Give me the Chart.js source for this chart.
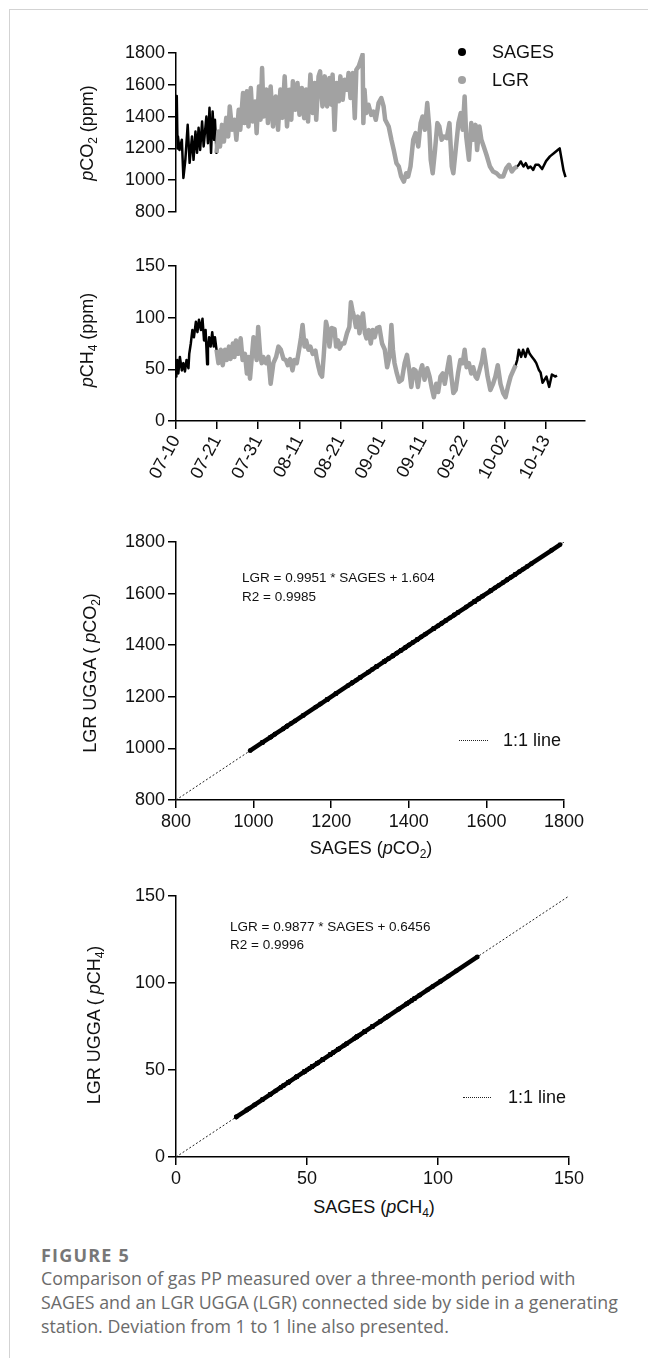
<!DOCTYPE html>
<html>
<head>
<meta charset="utf-8">
<script src="https://cdn.jsdelivr.net/npm/chart.js"></script>
<style>
  body { margin: 0; background: #fff; }
  #page { position: relative; width: 648px; height: 1358px; overflow: hidden; font-family: "Liberation Sans", Arial, sans-serif; color: #111; }
  #frame { position: absolute; left: 9px; top: 9px; width: 650px; height: 1360px; border-left: 1px solid #d3d3d3; border-top: 1px solid #d3d3d3; }
  canvas { position: absolute; left: 0; }
  .t { position: absolute; white-space: nowrap; font-size: 18px; line-height: 1; transform: translate(0, -50%); }
  .c { transform: translate(-50%, -50%); }
  .v { transform: translate(-50%, -50%) rotate(-90deg); }
  .eq { font-size: 13.5px; }
  sub { font-size: 12px; vertical-align: -4px; line-height: 0; }
  .dot { position: absolute; width: 8px; height: 8px; border-radius: 50%; }
  .dash { position: absolute; height: 0; border-top: 1.5px dotted #222; }
  .cap { position: absolute; left: 41px; font-family: "Open Sans", sans-serif; color: #6b6b6b; font-size: 17.8px; white-space: nowrap; transform: translate(0, -50%); line-height: 1; }
</style>
</head>
<body>
<div id="page">
  <div id="frame"></div>
  <canvas id="co2Time" width="648" height="230" style="top:0"></canvas>
  <canvas id="ch4Time" width="648" height="280" style="top:230px"></canvas>
  <canvas id="co2Fit" width="648" height="345" style="top:520px"></canvas>
  <canvas id="ch4Fit" width="648" height="330" style="top:865px"></canvas>

  <div class="dot" style="left:458px; top:48px; background:#000"></div>
  <div class="t" style="left:492px; top:52px">SAGES</div>
  <div class="dot" style="left:458px; top:76px; background:#a2a2a2"></div>
  <div class="t" style="left:492px; top:80px">LGR</div>

  <div class="t v" style="left:87px; top:133px"><i>p</i>CO<sub>2</sub> (ppm)</div>
  <div class="t v" style="left:87px; top:340px"><i>p</i>CH<sub>4</sub> (ppm)</div>

  <div class="t v" style="left:90px; top:673px">LGR UGGA ( <i>p</i>CO<sub>2</sub>)</div>
  <div class="t c" style="left:371px; top:848px">SAGES (<i>p</i>CO<sub>2</sub>)</div>
  <div class="t eq" style="left:242px; top:578px">LGR = 0.9951 * SAGES + 1.604</div>
  <div class="t eq" style="left:242px; top:597px">R2 = 0.9985</div>
  <div class="dash" style="left:459px; top:740px; width:29px"></div>
  <div class="t" style="left:503px; top:740px">1:1 line</div>

  <div class="t v" style="left:94px; top:1025px">LGR UGGA ( <i>p</i>CH<sub>4</sub>)</div>
  <div class="t c" style="left:374px; top:1207px">SAGES (<i>p</i>CH<sub>4</sub>)</div>
  <div class="t eq" style="left:230px; top:927px">LGR = 0.9877 * SAGES + 0.6456</div>
  <div class="t eq" style="left:230px; top:945px">R2 = 0.9996</div>
  <div class="dash" style="left:463px; top:1097px; width:28px"></div>
  <div class="t" style="left:508px; top:1097px">1:1 line</div>

  <div class="cap" style="top:1255px; font-weight:700; font-size:18px; letter-spacing:1.2px; color:#777">FIGURE 5</div>
  <div class="cap" style="top:1279px">Comparison of gas PP measured over a three-month period with</div>
  <div class="cap" style="top:1303px">SAGES and an LGR UGGA (LGR) connected side by side in a generating</div>
  <div class="cap" style="top:1327px">station. Deviation from 1 to 1 line also presented.</div>
</div>
<script>
// days since 07-10
const co2Days = [0, 0.2, 0.4, 0.5, 0.9, 1.5, 1.9, 2.4, 3.0, 3.5, 4.1, 4.5, 5.0, 5.4, 5.8, 6.2, 6.7, 7.1, 7.8, 8.2, 8.6, 9.0, 9.4, 9.8, 10.0,
  10.4, 10.9, 11.3, 11.8, 12.3, 12.9, 13.4, 13.8, 14.4, 15.0, 15.5, 16.1, 16.5, 17.2, 17.6, 18.2, 18.6, 19.2, 19.7, 20.3, 20.7,
  21.3, 21.7, 22.1, 22.5, 23.2, 23.6, 24.3, 24.9, 25.6, 26.2, 26.8, 27.3, 27.9, 28.5, 29.1, 29.6, 30.0, 30.6, 31.2, 31.7, 32.3,
  32.9, 33.4, 33.9, 34.5, 35.1, 35.6, 36.0, 36.6, 37.0, 37.6, 38.2, 38.8, 39.4, 39.9, 40.2, 40.7, 41.2, 41.8, 42.2, 42.8, 43.3,
  43.9, 44.3, 44.8, 45.4, 45.9, 46.3, 46.9, 47.6, 47.9, 48.1, 48.4, 48.8, 49.4, 50.1, 50.7, 51.3, 52.0, 52.7, 53.3, 53.7, 54.6,
  55.3, 55.9, 56.6, 57.2, 57.8, 58.5, 59.1, 59.6, 60.2, 60.9, 61.5, 62.2, 62.8, 63.3, 63.9, 64.5, 65.0, 65.4, 65.9, 66.5, 67.1,
  67.6, 68.2, 68.8, 69.5, 70.2, 70.8, 71.2, 71.8, 72.5, 73.1, 73.6, 74.1, 74.5, 75.2, 75.8, 76.3, 76.9, 77.3, 77.9, 78.4, 79.0,
  79.7, 80.6, 81.4, 82.3, 83.1, 84.0, 84.8, 85.5, 86.2, 86.9, 87.6, 88.0, 88.5, 89.2, 89.8, 90.4, 91.0, 91.7, 92.3, 93.1, 94.0,
  95.0, 96.0, 97.0, 98.0, 98.5, 99.0, 99.5, 100.0];
const co2Sages = [1520, 1530, 1200, 1275, 1190, 1254, 1014, 1128, 1348, 1109, 1275, 1128, 1306, 1172, 1330, 1190, 1369, 1212, 1400, 1233, 1455, 1172, 1432, 1254, 1380,
  1172, 1306, 1212, 1348, 1243, 1392, 1275, 1464, 1317, 1380, 1254, 1443, 1317, 1548, 1359, 1559, 1338, 1580, 1369, 1495, 1296,
  1590, 1380, 1705, 1400, 1570, 1359, 1590, 1338, 1527, 1317, 1570, 1392, 1653, 1338, 1569, 1380, 1622, 1443, 1611, 1411, 1580,
  1390, 1570, 1369, 1664, 1422, 1611, 1380, 1653, 1685, 1464, 1653, 1464, 1643, 1475, 1664, 1317, 1611, 1496, 1653, 1506, 1632,
  1569, 1674, 1517, 1674, 1390, 1695, 1716, 1768, 1790, 1359, 1569, 1422, 1475, 1411, 1432, 1380, 1485, 1517, 1464, 1380, 1338,
  1254, 1190, 1107, 1086, 1023, 991, 1044, 1023, 1086, 1254, 1296, 1212, 1359, 1401, 1317, 1485, 1338, 1128, 1044, 1190, 1359,
  1338, 1254, 1275, 1265, 1359, 1086, 1044, 1190, 1359, 1422, 1317, 1527, 1275, 1128, 1359, 1254, 1348, 1190, 1338, 1254, 1212,
  1160, 1086, 1055, 1044, 1023, 1023, 1076, 1097, 1055, 1076, 1086, 1097, 1118, 1086, 1107, 1076, 1086, 1065, 1097, 1097, 1070,
  1120, 1150, 1170, 1190, 1200, 1130, 1060, 1020];

const ch4Days = [0, 0.1, 0.3, 0.6, 1.0, 1.5, 1.9, 2.3, 2.7, 3.2, 3.4, 3.8, 4.2, 4.6, 5.1, 5.5, 5.9, 6.4, 6.8, 7.2, 7.6, 8.0, 8.2, 8.5, 8.9, 9.3, 9.7, 10.0,
  10.4, 10.9, 11.5, 12.0, 12.6, 13.0, 13.6, 14.0, 14.6, 15.0, 15.4, 16.0, 16.6, 17.1, 17.7, 18.2, 18.6, 19.0, 19.4, 19.9, 20.3,
  20.7, 21.1, 21.6, 22.0, 22.4, 23.1, 23.7, 24.3, 25.0, 25.7, 26.3, 26.9, 27.6, 28.2, 28.7, 29.3, 29.9, 30.4, 31.0, 31.6, 32.1,
  32.5, 33.0, 33.4, 34.0, 34.5, 35.1, 35.8, 36.2, 36.6, 37.0, 37.5, 37.9, 38.5, 39.0, 39.4, 40.0, 40.7, 41.1, 41.6, 42.0, 42.6,
  43.2, 43.9, 44.5, 44.9, 45.3, 45.7, 46.2, 46.7, 47.1, 47.6, 48.0, 48.5, 48.9, 49.5, 50.0, 50.5, 51.0, 51.6, 52.2, 52.9, 53.6,
  54.2, 54.8, 55.3, 55.7, 56.1, 56.7, 57.3, 58.0, 58.7, 59.3, 59.9, 60.4, 61.0, 61.5, 62.1, 62.6, 63.2, 63.8, 64.5, 65.1, 65.6,
  66.2, 66.8, 67.3, 67.9, 68.5, 69.0, 69.6, 70.2, 70.7, 71.2, 71.8, 72.4, 73.0, 73.6, 74.1, 74.6, 75.2, 75.8, 76.3, 76.9, 77.3,
  77.9, 78.6, 79.0, 79.5, 80.0, 80.7, 81.4, 82.0, 82.6, 83.3, 84.0, 84.6, 85.2, 85.9, 86.6, 87.2, 87.6, 88.0, 88.6, 89.1, 89.7,
  90.3, 90.8, 91.4, 92.0, 92.5, 93.2, 93.6, 94.1, 95.1, 95.8, 96.5, 97.4, 97.8];
const ch4Sages = [43, 52, 59, 46, 62, 49, 56, 48, 59, 51, 65, 75, 88, 81, 96, 86, 98, 88, 99, 78, 88, 55, 70, 81, 72, 86, 72, 81,
  69, 56, 69, 54, 69, 59, 72, 60, 75, 62, 78, 65, 80, 59, 65, 46, 62, 41, 59, 81, 69,
  59, 91, 65, 56, 62, 56, 62, 36, 56, 62, 72, 69, 60, 59, 54, 60, 49, 59, 56, 69, 81,
  93, 72, 78, 69, 72, 65, 68, 59, 52, 46, 43, 62, 96, 88, 72, 90, 89, 72, 78, 70, 75,
  75, 85, 91, 115, 107, 101, 91, 101, 85, 98, 104, 85, 80, 88, 75, 88, 81, 90, 91, 75, 69,
  52, 62, 93, 69, 56, 46, 38, 40, 56, 64, 49, 33, 50, 49, 33, 46, 54, 40, 51, 43, 33,
  23, 36, 28, 43, 46, 36, 49, 62, 43, 27, 30, 46, 59, 56, 69, 52, 56, 46, 52, 43, 41,
  49, 59, 69, 56, 43, 30, 36, 43, 54, 36, 27, 23, 33, 43, 49, 54, 59, 69, 62, 69, 62,
  70, 65, 62, 59, 56, 49, 47, 37, 43, 33, 45, 43, 44];

// days when the LGR analyser was logging next to SAGES
const lgrCo2Span = [10.4, 87.6];
const lgrCh4Span = [10.4, 87.2];

const dateLabels = ['07-10', '07-21', '07-31', '08-11', '08-21', '09-01', '09-11', '09-22', '10-02', '10-13'];
const dateStep = 95 / 9;
const dayMax = 105;

const co2Range = [800, 1800];
const ch4Range = [0, 150];

Chart.defaults.font.family = "'Liberation Sans', Arial, sans-serif";
Chart.defaults.font.size = 18;
Chart.defaults.color = '#111';
Chart.defaults.animation = false;

const black = '#000';
const gray = '#a2a2a2';

function series(days, vals, span) {
  var pts = [];
  for (var i = 0; i < days.length; i++) {
    if (!span || (days[i] >= span[0] && days[i] <= span[1])) {
      pts.push({x: days[i], y: vals[i]});
    }
  }
  return pts;
}

function pairs(days, vals, span) {
  // SAGES reading against the LGR reading of the same moment
  return series(days, vals, span).map(function(p){
    return {x: p.y, y: p.y};
  }).sort(function(a, b){ return a.x - b.x; });
}

function axis(range, step, size, vertical) {
  var a = {
    type: 'linear',
    min: range[0],
    max: range[1],
    ticks: {
      stepSize: step,
      padding: 3,
      color: '#111',
      maxRotation: 0,
      callback: function(v){ return String(v); }
    },
    grid: { drawOnChartArea: false, color: black, lineWidth: 1.5, tickLength: 8 },
    border: { color: black, width: 1.5 },
  };
  a.afterFit = function(scale){
    if (vertical) scale.width = size; else scale.height = size;
  };
  return a;
}

function timeChart(id, days, vals, span, range, step, pad, withDates) {
  var x = { type: 'linear', min: 0, max: dayMax, display: false };
  if (withDates) {
    x = axis([0, dayMax], dateStep, 89, false);
    x.afterBuildTicks = function(scale){
      scale.ticks = dateLabels.map(function(l, i){ return {value: i * dateStep}; });
    };
    x.ticks = {
      autoSkip: false,
      minRotation: 62,
      maxRotation: 62,
      padding: 3,
      color: '#111',
      callback: function(v, i){ return dateLabels[i]; }
    };
  }
  new Chart(document.getElementById(id), {
    type: 'scatter',
    data: {
      datasets: [
        {
          label: 'LGR',
          data: series(days, vals, span),
          showLine: true,
          borderColor: gray,
          borderWidth: 4.5,
          borderJoinStyle: 'round',
          pointRadius: 0,
          order: 0
        },
        {
          label: 'SAGES',
          data: series(days, vals),
          showLine: true,
          borderColor: black,
          borderWidth: 2.5,
          borderJoinStyle: 'round',
          pointRadius: 0,
          order: 1
        }
      ]
    },
    options: {
      responsive: false,
      devicePixelRatio: 1,
      layout: { padding: pad },
      scales: {
        x: x,
        y: axis(range, step, 176, true)
      },
      plugins: { legend: { display: false }, tooltip: { enabled: false } }
    }
  });
}

function fitChart(id, days, vals, span, range, step, pad, xHeight) {
  new Chart(document.getElementById(id), {
    type: 'scatter',
    data: {
      datasets: [
        {
          label: 'SAGES vs LGR',
          data: pairs(days, vals, span),
          showLine: true,
          borderColor: black,
          borderWidth: 4.5,
          backgroundColor: black,
          pointBorderWidth: 0,
          pointRadius: 2.4,
          order: 0
        },
        {
          label: '1:1 line',
          data: range.map(function(v){ return {x: v, y: v}; }),
          showLine: true,
          borderColor: '#222',
          borderWidth: 1,
          borderDash: [2, 2],
          pointRadius: 0,
          order: 1
        }
      ]
    },
    options: {
      responsive: false,
      devicePixelRatio: 1,
      layout: { padding: pad },
      scales: {
        x: axis(range, step, xHeight, false),
        y: axis(range, step, 176, true)
      },
      plugins: { legend: { display: false }, tooltip: { enabled: false } }
    }
  });
}

timeChart('co2Time', co2Days, co2Sages, lgrCo2Span, co2Range, 200, {left: 0, top: 53, right: 63, bottom: 18}, false);
timeChart('ch4Time', ch4Days, ch4Sages, lgrCh4Span, ch4Range, 50, {left: 0, top: 36, right: 63, bottom: 0}, true);
fitChart('co2Fit', co2Days, co2Sages, lgrCo2Span, co2Range, 200, {left: 0, top: 22, right: 84, bottom: 0}, 65);
fitChart('ch4Fit', ch4Days, ch4Sages, lgrCh4Span, ch4Range, 50, {left: 0, top: 31, right: 79, bottom: 0}, 38);
</script>
</body>
</html>
